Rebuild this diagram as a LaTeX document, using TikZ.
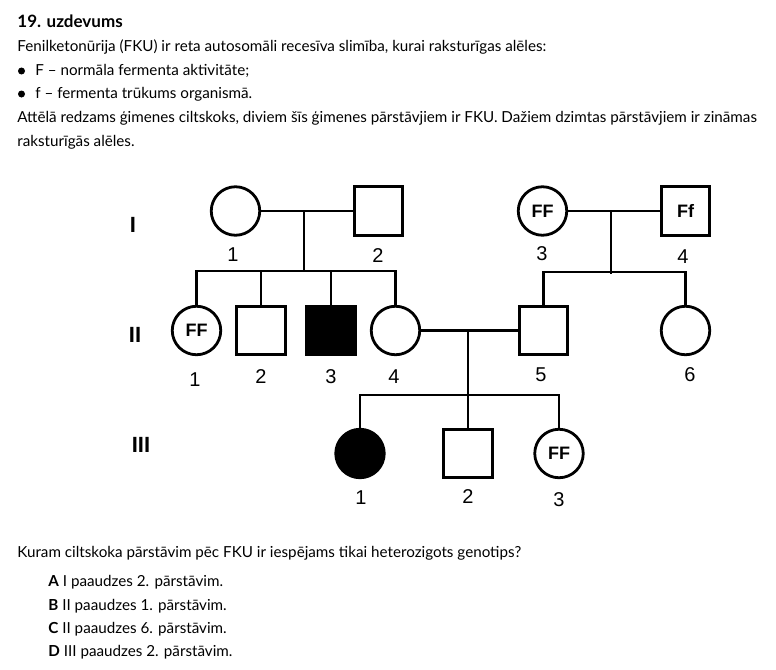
\documentclass[tikz,border=0pt]{standalone}
\usepackage{fontspec}
\setmainfont{Lato}
\newfontfamily\arial{Liberation Sans}
\usetikzlibrary{positioning}
\begin{document}
\begin{tikzpicture}[x=1pt,y=-1pt,line width=2.8pt,
    female/.style={circle,draw,minimum size=48.5pt,inner sep=0pt},
    male/.style={rectangle,draw,minimum size=48.5pt,inner sep=0pt},
    sick/.style={fill=black},
    geno/.style={font=\arial\bfseries\fontsize{18}{18}\selectfont},
    num/.style={inner sep=0pt,font=\arial\fontsize{20}{20}\selectfont},
    gen/.style={inner sep=0pt,font=\arial\bfseries\fontsize{22}{22}\selectfont},
    txt/.style={anchor=west,inner sep=0pt,font=\fontsize{15.2}{18}\selectfont},
    dot/.style={circle,fill,inner sep=0pt,minimum size=7pt}]
        \useasboundingbox(0,0)rectangle(776,669);
        % text above
        \node[txt,font=\bfseries\fontsize{17}{20}\selectfont](t0)at(16,21){19. uzdevums};
        \node[txt](t1)at(16,47){Fenilketonūrija (FKU) ir reta autosomāli recesīva slimība, kurai raksturīgas alēles:};
        \node[dot](d1)at(21.5,71){};
        \node[txt](t2)at(34,71){F – normāla fermenta aktivitāte;};
        \node[dot](d2)at(21.5,94){};
        \node[txt](t3)at(34,94){f – fermenta trūkums organismā.};
        \node[txt](t4)at(16,118){Attēlā redzams ģimenes ciltskoks, diviem šīs ģimenes pārstāvjiem ir FKU. Dažiem dzimtas pārstāvjiem ir zināmas};
        \node[txt](t5)at(16,142){raksturīgās alēles.};
        % generations
        \node[gen](gI)at(133,225){I};
        \node[gen](gII)at(135,335){II};
        \node[gen](gIII)at(141,445){III};
        \node[female](a1)at(235.5,211){};
        \node[male](a2)at(378.5,211){};
        \node[female,geno](a3)at(542.5,211){FF};
        \node[male,geno](a4)at(685.5,211){Ff};
        \node[female,geno](b1)at(196.5,330.5){FF};
        \node[male](b2)at(261,330.5){};
        \node[male,sick](b3)at(331,330.5){};
        \node[female](b4)at(395.5,330.5){};
        \node[male](b5)at(543.5,330.5){};
        \node[female](b6)at(685.5,330.5){};
        \node[female,sick](c1)at(360,453.5){};
        \node[male](c2)at(468,453.5){};
        \node[female,geno](c3)at(559,453.5){FF};
        \foreach \n/\x/\y in{1/233/255,2/378/256,3/542/254,4/683/257}
        \node[num](na\n)at(\x,\y){\n};
        \foreach \n/\x/\y in{1/195/380,2/261/377,3/331/377,4/394/377,5/541/375,6/690/375}
        \node[num](nb\n)at(\x,\y){\n};
        \foreach \n/\x/\y in{1/361/498,2/468/497,3/559/500}
        \node[num](nc\n)at(\x,\y){\n};
        % lines
        \coordinate(m1)at(304,211);\coordinate(s1)at(304,271);
        \coordinate(m2)at(611,211);\coordinate(s2)at(611,272);
        \coordinate(m3)at(468,330.5);\coordinate(s3)at(468,395);
        \draw(a1)--(a2)(m1)--(s1);
        \draw(b1.north)|-(s1)-|(b4.north);
        \draw(b2.north)--(b2.north|-s1)(b3.north)--(b3.north|-s1);
        \draw(a3)--(a4)(m2)--([yshift=-2pt]s2);
        \draw(b5.north)|-(s2)-|(b6.north);
        \draw(b4)--(b5)(m3)--(s3)--(c2.north);
        \draw(c1.north)|-(s3)-|(c3.north);
        % question
        \node[txt](q0)at(16,553){Kuram ciltskoka pārstāvim pēc FKU ir iespējams tikai heterozigots genotips?};
        \node[txt](qa)at(47,582){\textbf{A} I paaudzes 2. pārstāvim.};
        \node[txt](qb)at(47,606){\textbf{B} II paaudzes 1. pārstāvim.};
        \node[txt](qc)at(47,629){\textbf{C} II paaudzes 6. pārstāvim.};
        \node[txt](qd)at(47,652){\textbf{D} III paaudzes 2. pārstāvim.};
    \end{tikzpicture}
\end{document}
